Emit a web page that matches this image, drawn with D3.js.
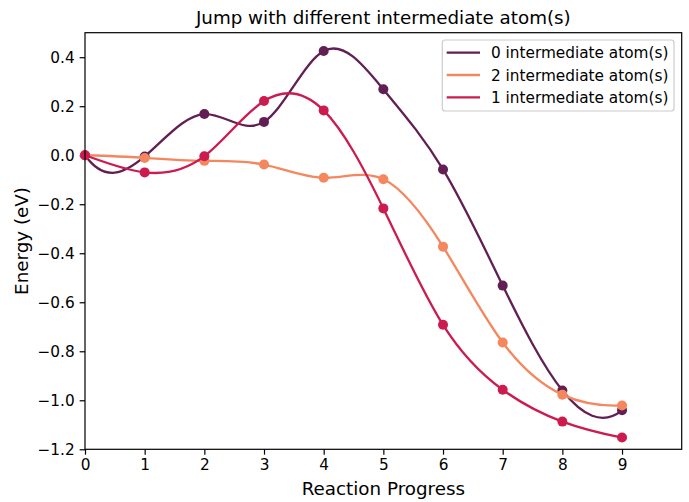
<!DOCTYPE html>
<html><head><meta charset="utf-8">
<script src="https://cdn.jsdelivr.net/npm/d3@7"></script>
<style>
html,body{margin:0;padding:0;background:#fff;}
svg{display:block;font-family:"DejaVu Sans",sans-serif;}
</style></head>
<body>
<svg id="chart" width="689" height="502"></svg>
<script>
const steps = [0,1,2,3,4,5,6,7,8,9];
const xTicks = [0,1,2,3,4,5,6,7,8,9];
const yTicks = [-1.2,-1.0,-0.8,-0.6,-0.4,-0.2,0.0,0.2,0.4];
const seriesNames = ["0 intermediate atom(s)","2 intermediate atom(s)","1 intermediate atom(s)"];
const seriesColors = ["#611f53","#f4875e","#cb1b4f"];
const energy0 = [0.000,-0.005,0.168,0.136,0.425,0.269,-0.058,-0.532,-0.960,-1.041];
const energy2 = [0.000,-0.011,-0.023,-0.038,-0.092,-0.098,-0.373,-0.764,-0.977,-1.021];
const energy1 = [0.000,-0.070,-0.004,0.221,0.183,-0.217,-0.692,-0.957,-1.087,-1.152];
const seriesValues = [energy0, energy2, energy1];

// not-a-knot cubic spline curve (like scipy make_interp_spline k=3)
function NotAKnot(ctx){ this._context = ctx; }
NotAKnot.prototype = {
  areaStart(){ this._line = 0; }, areaEnd(){ this._line = NaN; },
  lineStart(){ this._x = []; this._y = []; },
  point(x,y){ this._x.push(+x); this._y.push(+y); },
  lineEnd(){
    const x = this._x, y = this._y, n = x.length, c = this._context;
    if (!n) return;
    c.moveTo(x[0], y[0]);
    if (n < 4) { for (let i=1;i<n;i++) c.lineTo(x[i],y[i]); return; }
    const h = [], s = [];
    for (let i=0;i<n-1;i++){ h.push(x[i+1]-x[i]); s.push((y[i+1]-y[i])/h[i]); }
    const A = Array.from({length:n},()=>new Array(n).fill(0)), b = new Array(n).fill(0);
    A[0][0] = h[1]; A[0][1] = x[2]-x[0];
    b[0] = ((h[0] + 2*(x[2]-x[0]))*h[1]*s[0] + h[0]*h[0]*s[1])/(x[2]-x[0]);
    for (let i=1;i<n-1;i++){
      A[i][i-1] = h[i]; A[i][i] = 2*(h[i-1]+h[i]); A[i][i+1] = h[i-1];
      b[i] = 3*(h[i]*s[i-1] + h[i-1]*s[i]);
    }
    const d = x[n-1]-x[n-3];
    A[n-1][n-1] = h[n-3]; A[n-1][n-2] = d;
    b[n-1] = (h[n-2]*h[n-2]*s[n-3] + (2*d + h[n-2])*h[n-3]*s[n-2])/d;
    for (let k=0;k<n;k++){
      let p=k; for (let i=k+1;i<n;i++) if (Math.abs(A[i][k])>Math.abs(A[p][k])) p=i;
      [A[k],A[p]]=[A[p],A[k]]; [b[k],b[p]]=[b[p],b[k]];
      for (let i=k+1;i<n;i++){ const f=A[i][k]/A[k][k]; if(!f) continue;
        for (let j=k;j<n;j++) A[i][j]-=f*A[k][j]; b[i]-=f*b[k]; }
    }
    const m = new Array(n).fill(0);
    for (let i=n-1;i>=0;i--){ let sum=b[i]; for (let j=i+1;j<n;j++) sum-=A[i][j]*m[j]; m[i]=sum/A[i][i]; }
    for (let i=0;i<n-1;i++){
      const hh = h[i]/3;
      c.bezierCurveTo(x[i]+hh, y[i]+m[i]*hh, x[i+1]-hh, y[i+1]-m[i+1]*hh, x[i+1], y[i+1]);
    }
  }
};
const curveNotAKnot = ctx => new NotAKnot(ctx);

const svg = d3.select("#chart");
const L = 85, R = 681.7, T = 32.7, B = 449.3;
const x = d3.scaleLinear().domain([0,10]).range([L,R]);
const y = d3.scaleLinear().domain([-1.2,0.5]).range([B,T]);

const FS = "15.3px", FL = "18.3px";
const xAxis = svg.append("g").attr("transform",`translate(0,${B})`)
  .call(d3.axisBottom(x).tickValues(xTicks).tickFormat(d3.format("d")).tickSize(5.35).tickPadding(4.5));
const yAxis = svg.append("g").attr("transform",`translate(${L},0)`)
  .call(d3.axisLeft(y).tickValues(yTicks).tickFormat(d => d3.format(".1f")(d).replace("-","\u2212")).tickSize(5.35).tickPadding(5));
[xAxis,yAxis].forEach(g=>{
  g.select(".domain").remove();
  g.selectAll(".tick line").attr("stroke","#000").attr("stroke-width",1.2);
  g.selectAll(".tick text").attr("fill","#000").style("font-size",FS).style("font-family","DejaVu Sans");
});

const line = d3.line().x((d,i)=>x(steps[i])).y(d=>y(d)).curve(curveNotAKnot);
const plot = svg.append("g");
seriesValues.forEach((vals,k)=>{
  plot.append("path").attr("d", line(vals)).attr("fill","none")
    .attr("stroke", seriesColors[k]).attr("stroke-width",2.3);
  plot.selectAll(null).data(vals).enter().append("circle")
    .attr("cx",(d,i)=>x(steps[i])).attr("cy",d=>y(d)).attr("r",5)
    .attr("fill", seriesColors[k]);
});

svg.append("rect").attr("x",L).attr("y",T).attr("width",R-L).attr("height",B-T)
  .attr("fill","none").attr("stroke","#000").attr("stroke-width",1.2);

svg.append("text").attr("x",(L+R)/2).attr("y",24).attr("text-anchor","middle")
  .style("font-size",FL).text("Jump with different intermediate atom(s)");
svg.append("text").attr("x",(L+R)/2).attr("y",495).attr("text-anchor","middle")
  .style("font-size",FL).text("Reaction Progress");
svg.append("text").attr("transform",`translate(27.5,${(T+B)/2}) rotate(-90)`).attr("text-anchor","middle")
  .style("font-size",FL).text("Energy (eV)");

const lg = svg.append("g").attr("transform","translate(442.3,40)");
lg.append("rect").attr("x",0).attr("y",0).attr("width",231.7).attr("height",71).attr("rx",2.7)
  .attr("fill","#fff").attr("fill-opacity",0.8).attr("stroke","#ccc").attr("stroke-width",1.2);
seriesNames.forEach((nm,k)=>{
  const yy = 12.7 + k*22.3;
  lg.append("line").attr("x1",4.4).attr("x2",37.7).attr("y1",yy).attr("y2",yy)
    .attr("stroke",seriesColors[k]).attr("stroke-width",2.3);
  lg.append("text").attr("x",48.7).attr("y",yy+5.5).style("font-size",FS).text(nm);
});
</script>
</body></html>
